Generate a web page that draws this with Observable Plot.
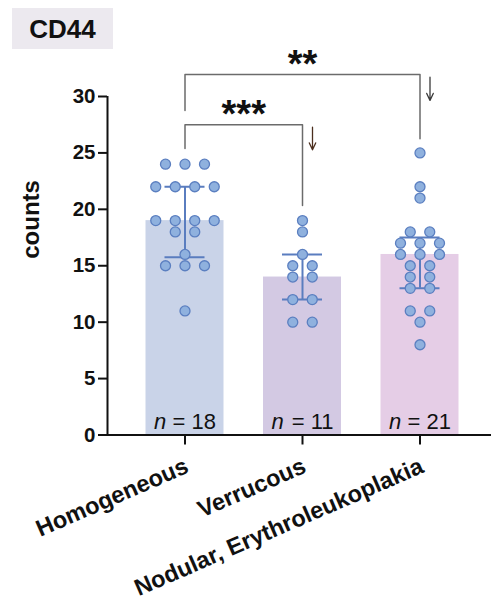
<!DOCTYPE html>
<html><head><meta charset="utf-8">
<script src="https://cdn.jsdelivr.net/npm/d3@7"></script>
<script src="https://cdn.jsdelivr.net/npm/@observablehq/plot@0.6"></script>
<style>
body{margin:0;background:#fff;font-family:Arial,"Liberation Sans",sans-serif;}
#wrap{position:relative;width:491px;height:605px;}
#title{position:absolute;left:12px;top:8px;width:101px;height:41px;background:#ece9ef;font-weight:bold;font-size:26px;line-height:42px;text-align:center;color:#111;}
#chart{position:absolute;left:0;top:0;}
</style></head><body><div id="wrap"><div id="chart"></div><div id="title">CD44</div></div>
<script>
const categories = ["Homogeneous", "Verrucous", "Nodular, Erythroleukoplakia"];
const counts = [18, 11, 21];
const homogeneous = [24,24,24,22,22,22,22,19,19,19,19,18,18,16,15,15,15,11];
const verrucous = [19,18,16,15,15,14,14,12,12,10,10];
const nodular = [25,22,21,18,18,17,17,17,16,16,16,15,15,14,14,13,13,11,11,10,8];
const medians = [19, 14, 16];
const q1 = [15.75, 12, 13];
const q3 = [22, 16, 17.5];
const yTicks = [0, 5, 10, 15, 20, 25, 30];
const barColors = ["#c9d3e8", "#d3c9e3", "#e5cde6"];
const comparisons = [
  {from: 0, to: 1, label: "***", y: 27.5, yFrom: 25.4, yTo: 20.35, arrowTop: 27.28, arrowBottom: 25.28, arrowColor: "#4b2e1e"},
  {from: 0, to: 2, label: "**", y: 31.95, yFrom: 28.75, yTo: 26.25, arrowTop: 31.71, arrowBottom: 29.65, arrowColor: "#3a3a3a"}
];

const step = 117.5;            // px per category
const dotStep = 19.5 / step;   // horizontal spacing of tied points
const barHalf = 39 / step;
const capHalf = 20 / step;
const arrowDx = 10 / step;
const xDomain = [-77.5 / step, 2 + 71.5 / step];

const groups = [homogeneous, verrucous, nodular];
const dots = groups.flatMap((vals, gi) => {
  const out = [];
  for (const [v, arr] of d3.group(vals, v => v)) {
    arr.forEach((_, j) => out.push({g: gi, v, off: j - (arr.length - 1) / 2}));
  }
  return out;
});
const bracketPts = comparisons.flatMap((c, k) => [
  {k, x: c.from, y: c.yFrom}, {k, x: c.from, y: c.y}, {k, x: c.to, y: c.y}, {k, x: c.to, y: c.yTo}
]);
const idx = categories.map((_, i) => i);
const font = 'Arial, "Liberation Sans", sans-serif';

const chart = Plot.plot({
  width: 491, height: 605,
  marginLeft: 107, marginRight: 0, marginTop: 96, marginBottom: 170.5,
  x: {domain: xDomain, axis: null},
  y: {domain: [0, 30], axis: null},
  color: {type: "identity"},
  style: {fontFamily: font, background: "transparent", color: "#111"},
  marks: [
    Plot.rect(idx, {x1: i => i - barHalf, x2: i => i + barHalf, y1: 0, y2: i => medians[i], fill: i => barColors[i]}),
    Plot.ruleX(idx, {x: i => i, y1: i => q1[i], y2: i => q3[i], stroke: "#5a7dbf", strokeWidth: 2}),
    Plot.ruleY(idx, {y: i => q1[i], x1: i => i - capHalf, x2: i => i + capHalf, stroke: "#5a7dbf", strokeWidth: 2}),
    Plot.ruleY(idx, {y: i => q3[i], x1: i => i - capHalf, x2: i => i + capHalf, stroke: "#5a7dbf", strokeWidth: 2}),
    Plot.dot(dots, {x: d => d.g + d.off * dotStep, y: "v", r: 5, fill: "#8fb1de", stroke: "#5b7fc0", strokeWidth: 1.3}),
    Plot.ruleY([0], {stroke: "#111", strokeWidth: 2}),
    Plot.ruleX([xDomain[0]], {y1: 0, y2: 30, stroke: "#111", strokeWidth: 2}),
    Plot.axisY({ticks: yTicks, tickSize: 9, tickPadding: 3, fontSize: 20.5, fontWeight: "bold", strokeWidth: 2, label: null}),
    Plot.axisX({ticks: [0, 1, 2], tickSize: 10, tickFormat: () => "", strokeWidth: 2, label: null}),
    Plot.text(idx, {x: i => i, y: 0, text: i => categories[i], rotate: -23.5, textAnchor: "end", dx: 2, dy: 30, fontSize: 23.5, fontWeight: "bold"}),
    Plot.text(idx, {x: i => i, y: 0, text: () => "n", textAnchor: "start", dx: -31, dy: -13.5, fontSize: 22, fontStyle: "italic"}),
    Plot.text(idx, {x: i => i, y: 0, text: i => "= " + counts[i], textAnchor: "end", dx: 31, dy: -13.5, fontSize: 22}),
    Plot.text(["counts"], {frameAnchor: "left", dx: -76, dy: -7, rotate: -90, fontSize: 24, fontWeight: "bold"}),
    Plot.line(bracketPts, {x: "x", y: "y", z: "k", stroke: "#6b6b6b", strokeWidth: 1.5}),
    Plot.text(comparisons, {x: c => (c.from + c.to) / 2, y: "y", text: "label", dy: -10, fontSize: 38, fontWeight: "bold"}),
    Plot.arrow(comparisons, {x1: c => c.to + arrowDx, x2: c => c.to + arrowDx, y1: "arrowTop", y2: "arrowBottom", stroke: "arrowColor", strokeWidth: 1.3, headLength: 10, headAngle: 50})
  ]
});
document.getElementById("chart").appendChild(chart);
</script>
</body></html>
